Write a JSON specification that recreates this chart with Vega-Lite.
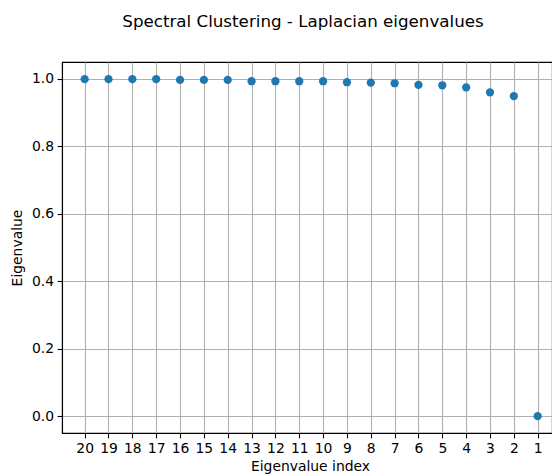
{
  "$schema": "https://vega.github.io/schema/vega-lite/v6.json",
  "width": 490,
  "height": 371,
  "autosize": {"type": "none"},
  "padding": {"left": 62, "top": 62, "right": 0, "bottom": 42},
  "background": "white",
  "title": {
    "text": "Spectral Clustering - Laplacian eigenvalues",
    "font": "DejaVu Sans",
    "fontSize": 16.7,
    "fontWeight": "normal",
    "color": "black",
    "anchor": "middle",
    "frame": "group",
    "dx": -4,
    "baseline": "alphabetic",
    "offset": 18
  },
  "data": {
    "values": [
      {"index": 20, "eigenvalue": 0.999},
      {"index": 19, "eigenvalue": 0.999},
      {"index": 18, "eigenvalue": 0.999},
      {"index": 17, "eigenvalue": 0.999},
      {"index": 16, "eigenvalue": 0.997},
      {"index": 15, "eigenvalue": 0.997},
      {"index": 14, "eigenvalue": 0.997},
      {"index": 13, "eigenvalue": 0.993},
      {"index": 12, "eigenvalue": 0.993},
      {"index": 11, "eigenvalue": 0.993},
      {"index": 10, "eigenvalue": 0.993},
      {"index": 9, "eigenvalue": 0.990},
      {"index": 8, "eigenvalue": 0.989},
      {"index": 7, "eigenvalue": 0.987},
      {"index": 6, "eigenvalue": 0.982},
      {"index": 5, "eigenvalue": 0.981},
      {"index": 4, "eigenvalue": 0.975},
      {"index": 3, "eigenvalue": 0.960},
      {"index": 2, "eigenvalue": 0.949},
      {"index": 1, "eigenvalue": 0.0}
    ]
  },
  "mark": {"type": "point", "filled": true, "color": "#1f77b4", "size": 68, "opacity": 1},
  "encoding": {
    "x": {
      "field": "index",
      "type": "quantitative",
      "scale": {"domain": [0.4, 20.95], "reverse": true, "nice": false, "zero": false},
      "axis": {
        "title": "Eigenvalue index",
        "values": [1, 2, 3, 4, 5, 6, 7, 8, 9, 10, 11, 12, 13, 14, 15, 16, 17, 18, 19, 20],
        "format": "d",
        "labelFlush": false,
        "labelOverlap": false,
        "titlePadding": 4,
        "titleX": 248
      }
    },
    "y": {
      "field": "eigenvalue",
      "type": "quantitative",
      "scale": {"domain": [-0.05, 1.05], "nice": false, "zero": false},
      "axis": {
        "title": "Eigenvalue",
        "values": [0, 0.2, 0.4, 0.6, 0.8, 1.0],
        "format": ".1f",
        "titlePadding": 7
      }
    }
  },
  "config": {
    "view": {"stroke": "black", "strokeWidth": 1.1},
    "axis": {
      "labelFont": "DejaVu Sans",
      "labelFontSize": 13.9,
      "labelColor": "black",
      "titleFont": "DejaVu Sans",
      "titleFontSize": 13.9,
      "titleFontWeight": "normal",
      "titleColor": "black",
      "domainColor": "black",
      "domainWidth": 1.1,
      "tickColor": "black",
      "tickSize": 4.9,
      "tickWidth": 1.1,
      "labelPadding": 3.5,
      "grid": true,
      "gridColor": "#b0b0b0",
      "gridWidth": 1.1,
      "zindex": 1
    }
  }
}
